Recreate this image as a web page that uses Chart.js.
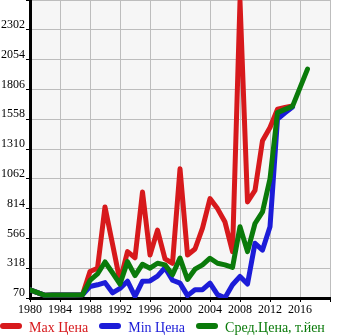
<!DOCTYPE html>
<html>
<head>
<meta charset="utf-8">
<script src="https://cdn.jsdelivr.net/npm/chart.js@4.4.1/dist/chart.umd.min.js"></script>
<style>
  html, body { margin: 0; padding: 0; background: #fff; }
  #wrap { position: relative; width: 345px; height: 335px; }
  #legend { position: absolute; left: 0; top: 321px; height: 14px; white-space: nowrap;
    font: 14px/14px 'Liberation Serif', serif; }
  #legend .item { display: inline-block; margin-right: 11px; }
  #legend .box { display: inline-block; width: 22px; height: 6px; border-radius: 3px;
    margin-right: 7px; vertical-align: 3px; }
</style>
</head>
<body>
<div id="wrap">
  <canvas id="price-chart" width="345" height="335"></canvas>
  <div id="legend"></div>
</div>
<script>
// years with data
var years = [1980, 1981, 1982, 1983, 1984, 1985, 1986, 1987, 1988, 1989,
  1990, 1991, 1992, 1993, 1994, 1995, 1996, 1997, 1998, 1999,
  2000, 2001, 2002, 2003, 2004, 2005, 2006, 2007, 2008, 2009,
  2010, 2011, 2012, 2013, 2014, 2015, 2017];

var maxPrice = [139, 115, 92, 95, 95, 96, 96, 97, 291, 318,
  828, 520, 210, 456, 405, 952, 428, 635, 395, 359,
  1145, 428, 478, 652, 897, 814, 702, 456, 2540, 869,
  965, 1379, 1489, 1641, 1655, 1668, null];

var minPrice = [139, 115, 92, 95, 95, 96, 96, 97, 166, 180,
  198, 113, 150, 210, 84, 210, 212, 252, 322, 218,
  194, 90, 139, 139, 194, 98, 72, 180, 249, 186,
  525, 469, 663, 1558, 1610, 1660, null];

var avgPrice = [139, 115, 92, 95, 95, 96, 96, 97, 217, 270,
  370, 280, 186, 373, 256, 351, 318, 359, 346, 264,
  402, 224, 310, 346, 401, 359, 346, 324, 663, 456,
  690, 787, 1062, 1613, 1640, 1665, 1975];

var yTicks = [70, 318, 566, 814, 1062, 1310, 1558, 1806, 2054, 2302, 2550];
var seriesNames = ["Max Цена", "Min Цена", "Сред.Цена, т.йен"];
var seriesColors = ["#d7191c", "#1c1cd8", "#0a7a0a"];

function points(vals) {
  return years.map(function (y, i) { return { x: y, y: vals[i] }; });
}

var plotBg = {
  id: "plotBg",
  beforeDraw: function (chart) {
    var a = chart.chartArea;
    var ctx = chart.ctx;
    ctx.save();
    ctx.fillStyle = "#f6f6f6";
    ctx.fillRect(a.left, a.top, a.right - a.left, a.bottom - a.top);
    ctx.restore();
  }
};

var lineStyle = { borderWidth: 5, pointRadius: 0, tension: 0, fill: false,
  borderJoinStyle: "round", borderCapStyle: "round", spanGaps: true };

// green on top, then blue, then red
var config = {
  type: "line",
  data: {
    datasets: [
      Object.assign({ label: seriesNames[0], data: points(maxPrice), borderColor: seriesColors[0], order: 2 }, lineStyle),
      Object.assign({ label: seriesNames[1], data: points(minPrice), borderColor: seriesColors[1], order: 1 }, lineStyle),
      Object.assign({ label: seriesNames[2], data: points(avgPrice), borderColor: seriesColors[2], order: 0 }, lineStyle)
    ]
  },
  options: {
    responsive: false,
    animation: false,
    layout: { padding: { left: 0, right: 15, top: 0, bottom: 17 } },
    plugins: {
      tooltip: { enabled: false },
      legend: { display: false }
    },
    scales: {
      x: {
        type: "linear",
        min: 1980,
        max: 2020,
        border: { color: "#000", width: 3 },
        grid: { color: "#bdbdbd", tickColor: "#000", tickLength: 4 },
        ticks: {
          stepSize: 4, maxRotation: 0, autoSkip: false, padding: 2, color: "#000",
          font: { family: "'Liberation Serif', serif", size: 12, lineHeight: 1 },
          callback: function (v) { return v === 2020 ? "" : String(v); }
        }
      },
      y: {
        type: "linear",
        min: yTicks[0],
        max: yTicks[yTicks.length - 1],
        border: { color: "#000", width: 3 },
        grid: { color: "#bdbdbd", tickColor: "#000", tickLength: 4 },
        afterBuildTicks: function (axis) {
          axis.ticks = yTicks.map(function (v) { return { value: v }; });
        },
        afterFit: function (axis) { axis.paddingTop = 0; },
        ticks: {
          padding: 1, color: "#000", labelOffset: -5,
          font: { family: "'Liberation Serif', serif", size: 12 },
          callback: function (v) { return v === 2550 ? "" : String(v); }
        }
      }
    }
  },
  plugins: [plotBg]
};

var ctx = document.getElementById("price-chart").getContext("2d");
window.priceChart = new Chart(ctx, config);

// legend
var legend = document.getElementById("legend");
seriesNames.forEach(function (name, i) {
  var item = document.createElement("span");
  item.className = "item";
  item.style.color = seriesColors[i];
  var box = document.createElement("span");
  box.className = "box";
  box.style.background = seriesColors[i];
  item.appendChild(box);
  item.appendChild(document.createTextNode(name));
  legend.appendChild(item);
});
</script>
</body>
</html>
